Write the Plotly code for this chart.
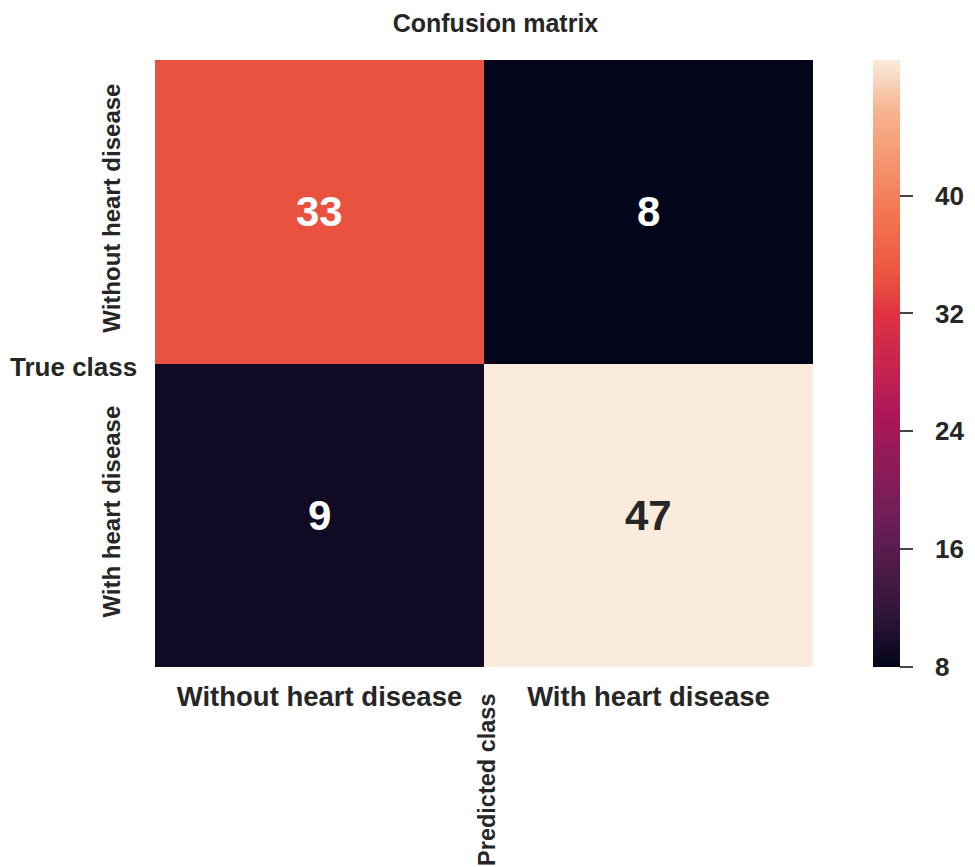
import plotly.graph_objects as go

# confusion matrix
class_names = ["Without heart disease", "With heart disease"]
counts = [[33, 8],
          [9, 47]]
colorbar_ticks = [8, 16, 24, 32, 40]
colorbar_range = [8, 49.2]  # the bar in the picture runs a bit past 47

# seaborn "rocket" (a little tuned to the colours in the picture)
rocket = [
    [0.0, "#03051a"],
    [0.083, "#2e1539"],
    [0.25, "#701f57"],
    [0.417, "#ad1759"],
    [0.583, "#e13342"],
    [0.64, "#e9523f"],
    [0.75, "#f37651"],
    [0.917, "#f6b48f"],
    [1.0, "#faebdd"],
]

FONT = "Liberation Sans, Arial, sans-serif"
TEXT = "#262626"

zmin = min(min(r) for r in counts)
zmax = max(max(r) for r in counts)

fig = go.Figure()
fig.add_trace(go.Heatmap(
    z=counts, x=class_names, y=class_names,
    colorscale=rocket, zmin=zmin, zmax=zmax,
    showscale=False, hoverinfo="z",
))

# colorbar only, drawn by a hidden marker trace
fig.add_trace(go.Scatter(
    x=[None], y=[None], mode="markers", showlegend=False, hoverinfo="skip",
    marker=dict(
        color=[colorbar_range[0]], cmin=colorbar_range[0], cmax=colorbar_range[1],
        colorscale=rocket, showscale=True,
        colorbar=dict(
            x=1.0912, xanchor="left", xpad=0,
            y=0.5, yanchor="middle", ypad=0, len=1, lenmode="fraction",
            thickness=27, outlinewidth=0,
            tickvals=colorbar_ticks,
            ticktext=["\u2002\u2006" + str(t) for t in colorbar_ticks],
            ticks="outside", ticklen=13,
            tickwidth=1.5, tickcolor="#444444",
            tickfont=dict(family=FONT, size=26, color=TEXT, weight="bold"),
        ),
    ),
))

# cell counts: light text on dark cells, dark text on the light cell
for i, row in enumerate(counts):
    for j, v in enumerate(row):
        light_cell = (v - zmin) / (zmax - zmin) > 0.8
        fig.add_annotation(
            x=class_names[j], y=class_names[i], text=str(v), showarrow=False,
            font=dict(family=FONT, size=42, weight="bold",
                      color=TEXT if light_cell else "white"),
        )

fig.add_annotation(
    text="True class", xref="paper", yref="paper", x=-0.1246, y=0.495,
    xanchor="center", yanchor="middle", showarrow=False,
    font=dict(family=FONT, size=26, color=TEXT, weight="bold"),
)
fig.add_annotation(
    text="Predicted class", xref="paper", yref="paper", x=0.5046, y=-0.186,
    xanchor="center", yanchor="middle", showarrow=False, textangle=-90,
    font=dict(family=FONT, size=23.5, color=TEXT, weight="bold"),
)

fig.update_layout(
    width=975, height=867,
    margin=dict(l=147, r=170, t=52, b=208),
    paper_bgcolor="white", plot_bgcolor="white",
    title=dict(text="Confusion matrix", x=0.5, xref="container", xanchor="center",
               y=0.982, yref="container", yanchor="middle",
               font=dict(family=FONT, size=25, color=TEXT, weight="bold")),
    xaxis=dict(showgrid=False, zeroline=False, ticks="", showline=False,
               tickfont=dict(family=FONT, size=27.5, color=TEXT, weight="bold"),
               ticklabelstandoff=10),
    yaxis=dict(showgrid=False, zeroline=False, ticks="", showline=False,
               autorange="reversed", tickangle=-90,
               tickfont=dict(family=FONT, size=24, color=TEXT, weight="bold"),
               ticklabelstandoff=29),
)

fig.write_html("out.html")
